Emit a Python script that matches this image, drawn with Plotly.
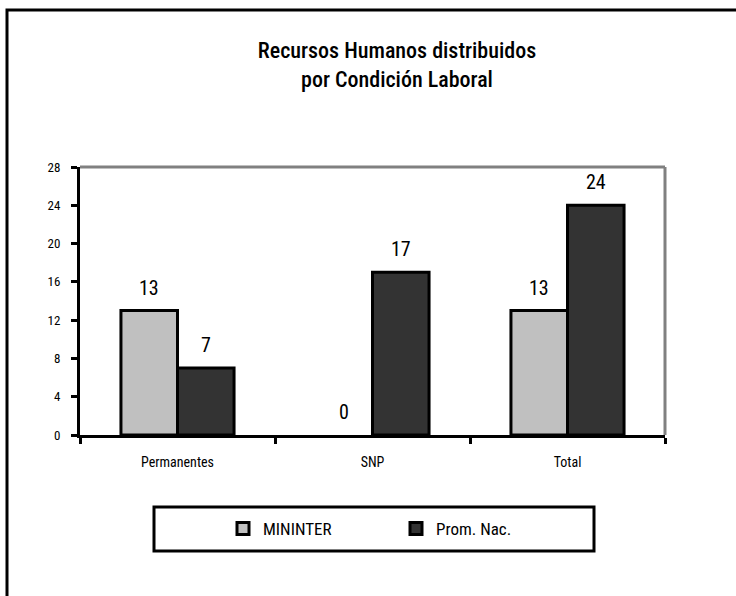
import plotly.graph_objects as go

categories = ["Permanentes", "SNP", "Total"]
mininter = [13, 0, 13]
prom_nac = [7, 17, 24]
y_ticks = [0, 4, 8, 12, 16, 20, 24, 28]
title_lines = ["Recursos Humanos distribuidos", "por Condición Laboral"]

FONT = "Roboto Condensed, Liberation Sans Narrow, Arial Narrow, Liberation Sans, Arial, sans-serif"

W, H = 736, 596
L, R, T, B = 80, 71, 167, 161
pw, ph = W - L - R, H - T - B
BARGAP = 0.42

fig = go.Figure()
series = [("MININTER", mininter, "#C0C0C0", -1), ("Prom. Nac.", prom_nac, "#333333", 1)]
for name, vals, color, side in series:
    fig.add_trace(go.Bar(
        x=categories, y=vals, name=name,
        marker=dict(color=color,
                    line=dict(color="black", width=[3 if v else 0 for v in vals])),
    ))

# value labels above the bars
cat_px = pw / len(categories)
bar_px = cat_px * (1 - BARGAP) / 2
annotations = []
for name, vals, color, side in series:
    for c, v in zip(categories, vals):
        annotations.append(dict(
            x=c, y=v, xref="x", yref="y", text=str(v), showarrow=False,
            xshift=side * bar_px / 2, yshift=23, yanchor="middle",
            font=dict(size=20, family=FONT, color="black"),
        ))


def px_x(px):
    return (px - L) / pw


def px_y(py):
    return (H - B - py) / ph


shapes = [
    dict(type="line", xref="paper", yref="paper", x0=0, x1=1, y0=1, y1=1,
         line=dict(color="#808080", width=3), layer="below"),
    dict(type="line", xref="paper", yref="paper", x0=1, x1=1, y0=0, y1=1,
         line=dict(color="#808080", width=3), layer="below"),
    dict(type="rect", xref="paper", yref="paper",
         x0=px_x(7), x1=px_x(760), y0=px_y(620), y1=px_y(10),
         line=dict(color="black", width=3), fillcolor="rgba(0,0,0,0)"),
    dict(type="rect", xref="paper", yref="paper",
         x0=px_x(154), x1=px_x(594), y0=px_y(551), y1=px_y(507),
         line=dict(color="black", width=3), fillcolor="rgba(0,0,0,0)"),
]

fig.update_layout(
    width=W, height=H,
    margin=dict(l=L, r=R, t=T, b=B),
    paper_bgcolor="white", plot_bgcolor="white",
    font=dict(family=FONT, color="black", size=12),
    barmode="group", bargap=BARGAP, bargroupgap=0,
    title=dict(text="<br>".join(title_lines),
               x=397 / W, xanchor="center",
               y=1 - 58 / H, yanchor="middle",
               font=dict(size=22, family=FONT, color="black", weight=500)),
    showlegend=True,
    legend=dict(orientation="h", x=px_x(223), xanchor="left",
                y=px_y(529), yanchor="middle", yref="paper",
                entrywidth=128, entrywidthmode="pixels",
                font=dict(size=17, family=FONT, color="black"),
                bgcolor="rgba(0,0,0,0)", borderwidth=0),
    shapes=shapes,
    annotations=annotations,
)
fig.update_xaxes(
    showline=True, linecolor="black", linewidth=3,
    ticks="outside", tickson="boundaries", ticklen=6, tickwidth=3, tickcolor="black",
    ticklabelstandoff=12, showgrid=False, zeroline=False,
    tickfont=dict(size=14, family=FONT, color="black"),
)
fig.update_yaxes(
    range=[0, 28], tickvals=y_ticks, ticktext=[str(v) for v in y_ticks],
    showline=True, linecolor="black", linewidth=3,
    ticks="outside", ticklen=6, tickwidth=3, tickcolor="black",
    ticklabelstandoff=8, showgrid=False, zeroline=False,
    tickfont=dict(size=13, family=FONT, color="black"),
)

fig.write_html("out.html", config={"displayModeBar": False},
               post_script="document.body.style.margin='0';")
